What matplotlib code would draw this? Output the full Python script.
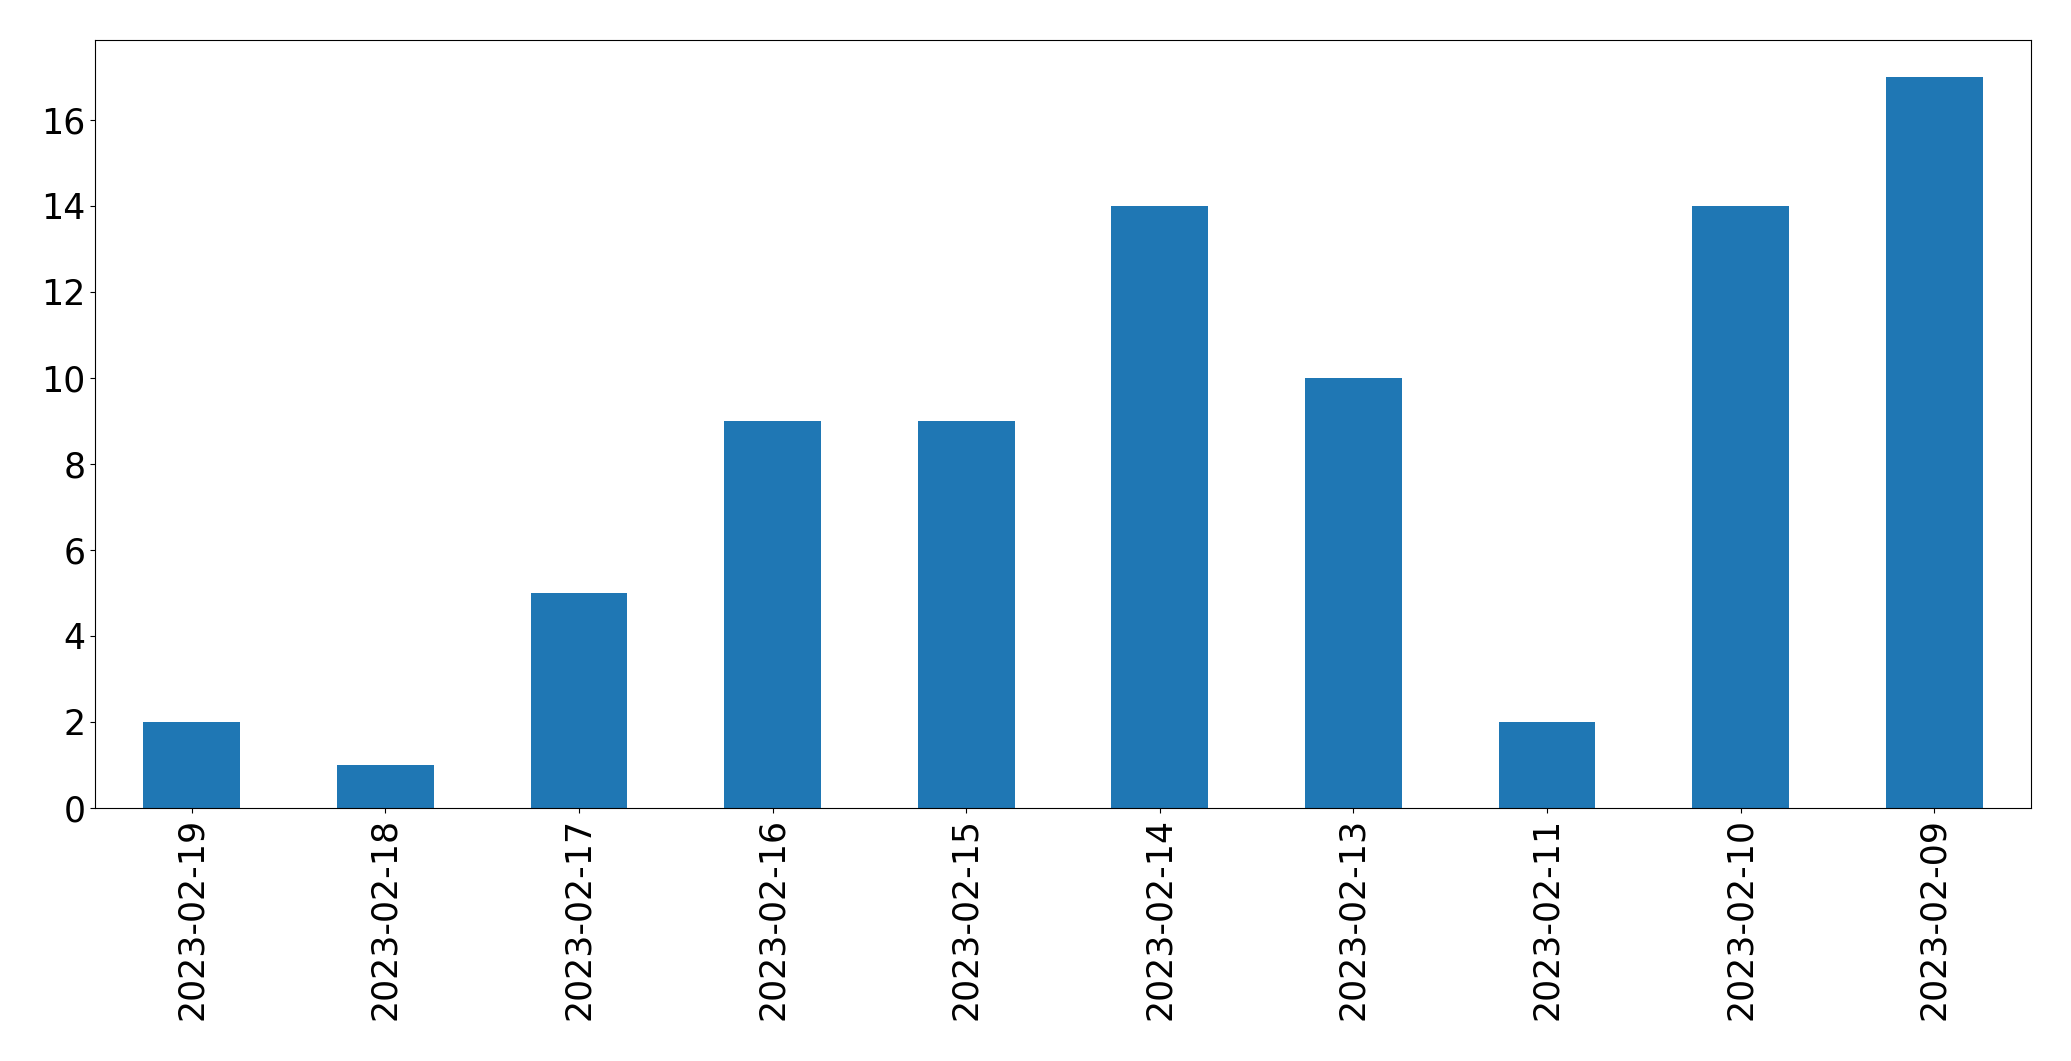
import matplotlib
matplotlib.use("Agg")
import matplotlib.pyplot as plt

# dates and counts, in the order shown
dates = ['2023-02-19', '2023-02-18', '2023-02-17', '2023-02-16', '2023-02-15',
         '2023-02-14', '2023-02-13', '2023-02-11', '2023-02-10', '2023-02-09']
counts = [2, 1, 5, 9, 9, 14, 10, 2, 14, 17]

fig, ax = plt.subplots(figsize=(20.71, 10.61), dpi=100)
fig.subplots_adjust(left=95 / 2071, right=2031 / 2071, top=1 - 40 / 1061, bottom=1 - 808 / 1061)

x = range(len(dates))
ax.bar(x, counts, width=0.5, color='#1f77b4')
ax.set_xlim(-0.5, len(dates) - 0.5)
ax.set_ylim(0, max(counts) * 1.05)
ax.set_xticks(list(x))
ax.set_xticklabels(dates, rotation=90)
ax.tick_params(axis='both', labelsize=25)

fig.savefig('out.png', dpi=100)
